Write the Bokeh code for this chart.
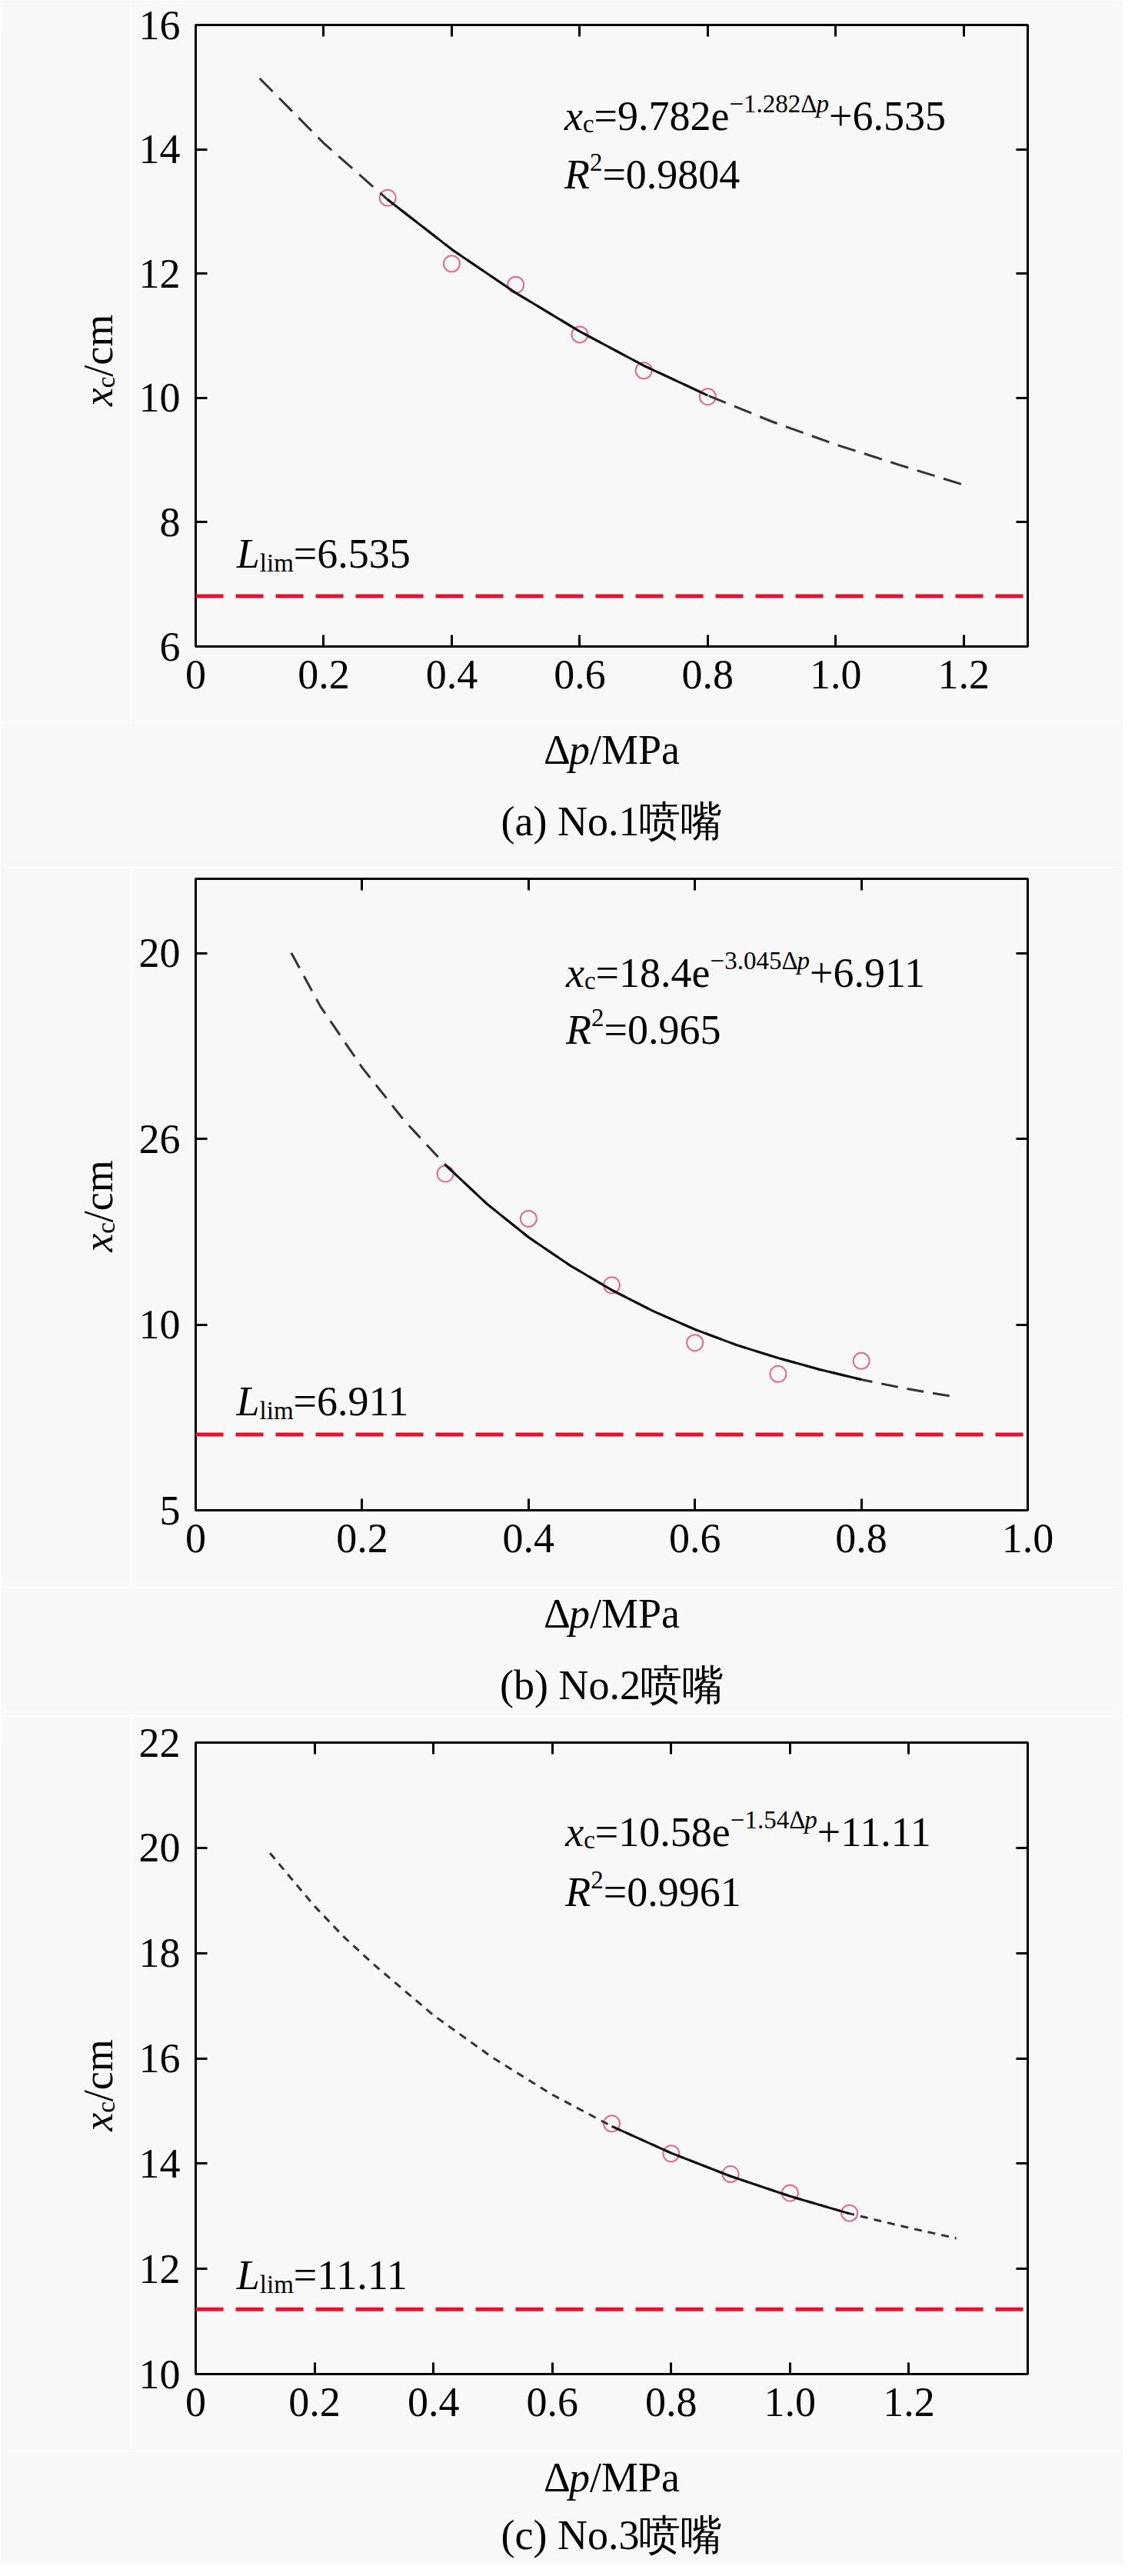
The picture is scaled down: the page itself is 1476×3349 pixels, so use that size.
import json
from math import pi
from bokeh.plotting import figure
from bokeh.layouts import column, row
from bokeh.models import (Range1d, FixedTicker, CustomJSTickFormatter, LinearAxis,
                          Label, Span)
from bokeh.embed import file_html
from bokeh.resources import INLINE

# ---------------- data ----------------
# panel (a) No.1
a_dp = [0.3, 0.4, 0.5, 0.6, 0.7, 0.8]
a_xc = [13.22, 12.16, 11.82, 11.02, 10.44, 10.02]
a_fit_dp = [0.1, 0.2, 0.3, 0.4, 0.5, 0.6, 0.7, 0.8, 0.9, 1.0, 1.1, 1.2]
a_fit_xc = [15.14, 14.10, 13.19, 12.39, 11.69, 11.07, 10.52, 10.04, 9.62, 9.25, 8.92, 8.60]
a_lim_line = 6.81
a_xticks = [0, 0.2, 0.4, 0.6, 0.8, 1.0, 1.2]
a_xtick_labels = ["0", "0.2", "0.4", "0.6", "0.8", "1.0", "1.2"]
a_yticks = [6, 8, 10, 12, 14, 16]
a_ytick_labels = ["6", "8", "10", "12", "14", "16"]

# panel (b) No.2
b_dp = [0.3, 0.4, 0.5, 0.6, 0.7, 0.8]
b_xc = [14.06, 12.85, 11.06, 9.51, 8.67, 9.02]
b_fit_dp = [0.115, 0.15, 0.2, 0.25, 0.3, 0.35, 0.4, 0.45, 0.5, 0.55, 0.6, 0.65, 0.7,
            0.75, 0.8, 0.85, 0.9, 0.915]
b_fit_xc = [20.0, 18.56, 16.92, 15.51, 14.30, 13.25, 12.35, 11.59, 10.93, 10.36, 9.87,
            9.45, 9.10, 8.79, 8.52, 8.29, 8.10, 8.05]
b_lim_line = 7.04
b_xticks = [0, 0.2, 0.4, 0.6, 0.8, 1.0]
b_xtick_labels = ["0", "0.2", "0.4", "0.6", "0.8", "1.0"]
b_yticks = [5, 10, 15, 20]
b_ytick_labels = ["5", "10", "26", "20"]

# panel (c) No.3
c_dp = [0.7, 0.8, 0.9, 1.0, 1.1]
c_xc = [14.76, 14.19, 13.80, 13.44, 13.06]
c_fit_dp = [0.125, 0.2, 0.25, 0.3, 0.4, 0.5, 0.6, 0.7, 0.8, 0.9, 1.0, 1.1, 1.2, 1.28]
c_fit_xc = [19.90, 18.89, 18.30, 17.78, 16.82, 16.01, 15.31, 14.71, 14.20, 13.76, 13.38,
            13.05, 12.78, 12.58]
c_lim_line = 11.23
c_xticks = [0, 0.2, 0.4, 0.6, 0.8, 1.0, 1.2]
c_xtick_labels = ["0", "0.2", "0.4", "0.6", "0.8", "1.0", "1.2"]
c_yticks = [10, 12, 14, 16, 18, 20, 22]
c_ytick_labels = ["10", "12", "14", "16", "18", "20", "22"]

# ---------------- styling ----------------
BG = "#f8f8f8"
SERIF = "Liberation Serif"
FS = 54
FS_SMALL = 33
TICK_FS = "54px"
FRAME_W = 1082
TOTAL_W = 1460
YLAB_W = 170                      # strip left of each plot holding the y title
LEFT_B = 84                       # plot border left of the frame (tick labels)
RIGHT_B = TOTAL_W - YLAB_W - LEFT_B - FRAME_W
BOTTOM_B = 100                    # plot border below the frame (tick labels)
XLAB_GAP = 145                    # x title baseline below the frame
BASE_FIX = 11                     # label baseline correction (px)

W_REG = {'0': 500, '1': 500, '2': 500, '3': 500, '4': 500, '5': 500, '6': 500, '7': 500,
         '8': 500, '9': 500, '.': 250, '=': 564, '+': 564, '\u2212': 564, 'e': 444,
         'c': 444, 'i': 278, 'l': 278, 'm': 778, '\u0394': 612, '/': 278, ' ': 250,
         'M': 889, 'P': 556, 'a': 444}
W_IT = {'x': 444, 'p': 500, 'R': 611, 'L': 556}


def text_width(s, size, style):
    tbl = W_IT if style == "italic" else W_REG
    return sum(tbl.get(ch, W_REG.get(ch, 500)) for ch in s) * size / 1000.0


def total_width(parts):
    return sum(text_width(t, s, st) for t, st, s, _ in parts)


def rich(p, x, y, parts, rotated=False):
    off = 0.0
    for text, style, size, dy in parts:
        common = dict(text=text, text_font=SERIF, text_font_style=style,
                      text_font_size=f"{size}px", text_color="black",
                      text_align="left", text_baseline="alphabetic")
        if rotated:
            lab = Label(x=x, y=y, x_offset=-dy - BASE_FIX, y_offset=off, angle=pi / 2, **common)
        else:
            lab = Label(x=x, y=y, x_offset=off, y_offset=dy + BASE_FIX, **common)
        p.add_layout(lab)
        off += text_width(text, size, style)


def formatter(ticks, labels):
    m = {f"{t:.3f}": l for t, l in zip(ticks, labels)}
    return CustomJSTickFormatter(
        code=f"const m = {json.dumps(m)}; const k = tick.toFixed(3); return (k in m) ? m[k] : '';")


def style_axis(ax, ticks, labels, show_labels=True):
    ax.ticker = FixedTicker(ticks=ticks)
    ax.axis_line_width = 3
    ax.axis_line_color = "black"
    ax.major_tick_in = 15
    ax.major_tick_out = 0
    ax.major_tick_line_width = 3
    ax.major_tick_line_color = "black"
    ax.minor_tick_in = 0
    ax.minor_tick_out = 0
    ax.axis_label_standoff = 0
    if show_labels:
        ax.formatter = formatter(ticks, labels)
        ax.major_label_text_font = SERIF
        ax.major_label_text_font_size = TICK_FS
        ax.major_label_text_color = "black"
    else:
        ax.formatter = CustomJSTickFormatter(code="return '';")
        ax.major_label_text_font_size = "0px"
        ax.major_label_standoff = 0


def blank(w, h):
    f = figure(title=None, frame_width=w, frame_height=h,
               x_range=Range1d(0, w), y_range=Range1d(0, h),
               output_backend="svg", toolbar_location=None,
               x_axis_location=None, y_axis_location=None,
               min_border_left=0, min_border_right=0, min_border_top=0, min_border_bottom=0,
               background_fill_color=BG, border_fill_color=BG, outline_line_color=None)
    f.grid.visible = False
    return f


def panel(xmax, yrange, xticks, xlabels, yticks, ylabels, dp, xc, fit_dp, fit_xc,
          lim_line, dash, eq_parts, r2_parts, eq_pos, r2_y, lim_parts, lim_pos,
          caption, block_top, frame_top, frame_bottom, block_bottom, cap_gap):
    top = frame_top - block_top
    frame_h = frame_bottom - frame_top
    plot_h = top + frame_h + BOTTOM_B
    cap_h = block_bottom - block_top - plot_h
    p = figure(title=None, frame_width=FRAME_W, frame_height=frame_h,
               x_range=Range1d(0, xmax), y_range=Range1d(*yrange),
               output_backend="svg", toolbar_location=None,
               min_border_left=LEFT_B, min_border_right=RIGHT_B,
               min_border_top=top, min_border_bottom=BOTTOM_B,
               background_fill_color=BG, border_fill_color=BG,
               outline_line_color="black", outline_line_width=3)
    p.grid.visible = False
    style_axis(p.xaxis[0], xticks, xlabels)
    p.xaxis[0].major_label_standoff = 18
    style_axis(p.yaxis[0], yticks, ylabels)
    p.yaxis[0].major_label_standoff = 20
    top_ax = LinearAxis()
    style_axis(top_ax, xticks, xlabels, show_labels=False)
    p.add_layout(top_ax, "above")
    right_ax = LinearAxis()
    style_axis(right_ax, yticks, ylabels, show_labels=False)
    p.add_layout(right_ax, "right")

    # limit line
    p.add_layout(Span(location=lim_line, dimension="width", line_color="#e3122e",
                      line_width=5, line_dash="36 16"))
    # measured points
    p.scatter(dp, xc, marker="circle", size=21, fill_color=None,
              line_color="#e46a8c", line_width=2)
    # fitted curve: dashed extrapolation + solid over the data range
    p.line(fit_dp, fit_xc, line_color="#333333", line_width=3, line_dash=dash)
    lo, hi = min(dp), max(dp)
    sx = [x for x in fit_dp if lo - 1e-9 <= x <= hi + 1e-9]
    sy = [y for x, y in zip(fit_dp, fit_xc) if lo - 1e-9 <= x <= hi + 1e-9]
    p.line(sx, sy, line_color="#111111", line_width=3)

    # annotations inside the frame
    rich(p, eq_pos[0], eq_pos[1], eq_parts)
    rich(p, eq_pos[0], r2_y, r2_parts)
    rich(p, lim_pos[0], lim_pos[1], lim_parts)

    # y title strip (pixel coordinates)
    ys = blank(YLAB_W, plot_h)
    ylab = [("x", "italic", FS, 0), ("c", "normal", FS_SMALL, -10), ("/cm", "normal", FS, 0)]
    rich(ys, 138, BOTTOM_B + frame_h / 2 - total_width(ylab) / 2, ylab, rotated=True)

    # x title + caption strip
    cs = blank(TOTAL_W, cap_h)
    cx = YLAB_W + LEFT_B + FRAME_W / 2
    xlab = [("\u0394", "normal", FS, 0), ("p", "italic", FS, 0), ("/MPa", "normal", FS, 0)]
    rich(cs, cx - total_width(xlab) / 2, cap_h - (XLAB_GAP - BOTTOM_B), xlab)
    cs.add_layout(Label(x=cx, y=cap_h - (cap_gap - BOTTOM_B), y_offset=BASE_FIX,
                        text=caption, text_font=SERIF,
                        text_font_size=f"{FS}px", text_align="center",
                        text_baseline="alphabetic", text_color="black"))
    return column(row(ys, p, spacing=0), cs, spacing=0)


def eq(a, b, c):
    return [("x", "italic", FS, 0), ("c", "normal", FS_SMALL, -10), (f"={a}e", "normal", FS, 0),
            (f"\u2212{b}\u0394", "normal", FS_SMALL, 16), ("p", "italic", FS_SMALL, 16),
            (f"+{c}", "normal", FS, 0)]


def r2(v):
    return [("R", "italic", FS, 0), ("2", "normal", FS_SMALL, 16), (f"={v}", "normal", FS, 0)]


def lim(v):
    return [("L", "italic", FS, 0), ("lim", "normal", FS_SMALL, -12), (f"={v}", "normal", FS, 0)]


# page px per panel: block top, frame top, frame bottom, block bottom, caption baseline gap
pa = panel(1.3, (6, 16), a_xticks, a_xtick_labels, a_yticks, a_ytick_labels,
           a_dp, a_xc, a_fit_dp, a_fit_xc, a_lim_line, "24 12",
           eq("9.782", "1.282", "6.535"), r2("0.9804"), (0.576, 14.40), 13.46,
           lim("6.535"), (0.064, 7.35), "(a) No.1喷嘴", 8, 40, 848, 1135, 238)
pb = panel(1.0, (5, 22), b_xticks, b_xtick_labels, b_yticks, b_ytick_labels,
           b_dp, b_xc, b_fit_dp, b_fit_xc, b_lim_line, "22 12",
           eq("18.4", "3.045", "6.911"), r2("0.965"), (0.445, 19.24), 17.70,
           lim("6.911"), (0.049, 7.70), "(b) No.2喷嘴", 1135, 1150, 1971, 2238, 238)
pc = panel(1.4, (10, 22), c_xticks, c_xtick_labels, c_yticks, c_ytick_labels,
           c_dp, c_xc, c_fit_dp, c_fit_xc, c_lim_line, "10 8",
           eq("10.58", "1.54", "11.11"), r2("0.9961"), (0.622, 20.13), 19.0,
           lim("11.11"), (0.069, 11.72), "(c) No.3喷嘴", 2238, 2273, 3094, 3341, 220)

layout = column(pa, pb, pc, spacing=0)
open("out.html", "w").write(file_html(layout, INLINE))
